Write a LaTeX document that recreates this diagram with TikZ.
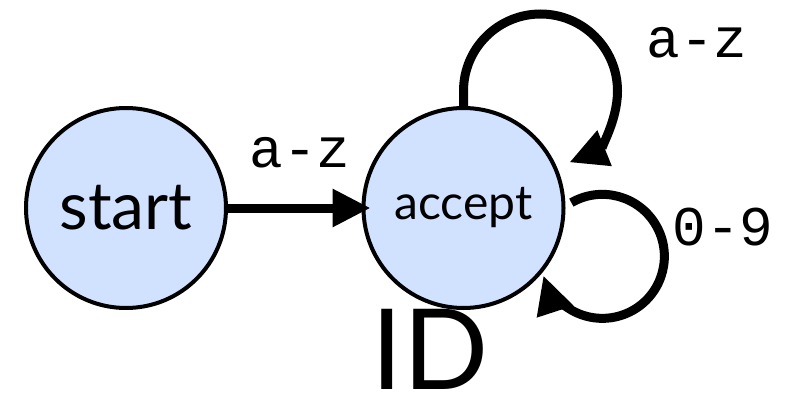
\documentclass[tikz,border=0pt]{standalone}
\usepackage{fontspec}
\setmainfont{Lato}
\setmonofont{Liberation Mono}
\usetikzlibrary{arrows.meta}
\definecolor{statefill}{RGB}{208,226,255}
\tikzset{
  statenode/.style={circle, draw=black, line width=4pt, fill=statefill, minimum size=200pt, inner sep=0pt},
  conn/.style={line width=9pt, -{Triangle[length=38pt,width=36pt]}},
  lbl/.style={font=\fontsize{56}{60}\selectfont\ttfamily, inner sep=0pt}
}
\begin{document}
\begin{tikzpicture}[x=1pt,y=1pt]
\useasboundingbox (0,0) rectangle (791,402);
\node[statenode] (start) at (126,194) {\fontsize{66}{70}\selectfont start};
\node[statenode] (accept) at (463.5,194) {\fontsize{48}{52}\selectfont accept};
\node[font=\fontsize{112}{114}\selectfont, inner sep=0pt] (id) at (430,53) {ID};
\draw[conn, shorten >=-9pt] (start.east) -- (accept.west);
\node[lbl] (l1) at (300,249) {a-z};
\draw[conn] (accept.north) -- ++(0,15) arc[start angle=180, end angle=-68, radius=77];
\node[lbl] (l2) at (697,359) {a-z};
\draw[conn] (accept.3) ++(6,0) coordinate (s2) arc[start angle=120, end angle=-162, radius=62];
\node[lbl] (l3) at (723,175) {0-9};
\end{tikzpicture}
\end{document}
